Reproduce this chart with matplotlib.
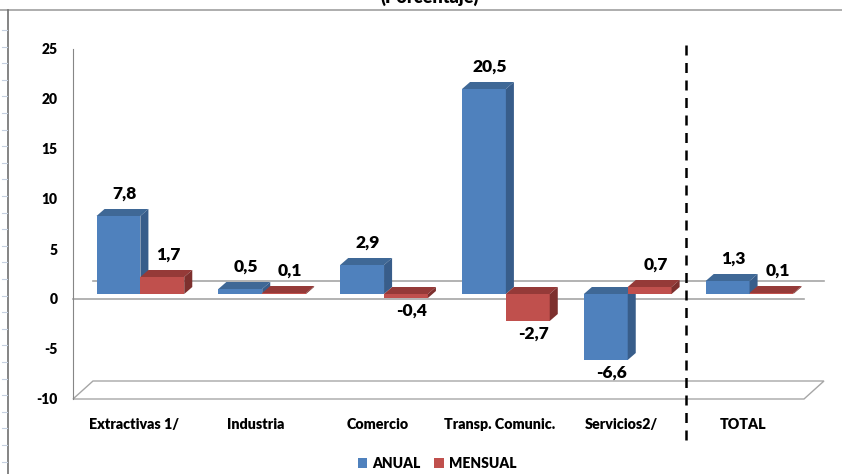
import matplotlib.pyplot as plt
from matplotlib.patches import Polygon, Patch
from matplotlib.lines import Line2D
import numpy as np

# Chart data
categories = ['Extractivas 1/', 'Industria', 'Comercio', 'Transp. Comunic.', 'Servicios2/', 'TOTAL']
anual = [7.8, 0.5, 2.9, 20.5, -6.6, 1.3]
mensual = [1.7, 0.1, -0.4, -2.7, 0.7, 0.1]
y_ticks = [25, 20, 15, 10, 5, 0, -5, -10]

plt.rcParams['font.family'] = ['Lato', 'DejaVu Sans']
W = 'heavy'

# colours (front, top, side)
blue = ('#4f81bd', '#3f6896', '#385d8a')
red = ('#c0504d', '#953a38', '#7d302e')

# fake 3D geometry (data units)
wall_dx, wall_dy = 0.164, 1.8   # depth of the wall / floor
bar_dx, bar_dy = 0.066, 0.7     # depth of each bar
base = 0.5                      # bars sit a bit behind the front zero line
shift = 0.053
width = 0.36

fig = plt.figure(figsize=(8.42, 4.74), dpi=100)
ax = fig.add_axes([73 / 842, 1 - 399 / 474, 731 / 842, 350 / 474])
ax.set_xlim(-0.5, 5.5)
ax.set_ylim(-10, 25)

for s in ['top', 'right', 'bottom']:
    ax.spines[s].set_visible(False)
ax.spines['left'].set_color('#868686')

ax.set_yticks(y_ticks)
ax.set_yticklabels([str(t) for t in y_ticks], fontsize=10, fontweight=W)
ax.tick_params(axis='y', length=0, pad=11)
x = np.arange(len(categories))
ax.set_xticks(x)
ax.set_xticklabels(categories, fontsize=10.3, fontweight=W)
ax.tick_params(axis='x', length=0, pad=14)

# floor
floor = Polygon([(-0.5, -10), (5.5, -10), (5.5 + wall_dx, -10 + wall_dy),
                 (-0.5 + wall_dx, -10 + wall_dy)], closed=True,
                facecolor='white', edgecolor='#a6a6a6', lw=1, clip_on=False, zorder=1)
ax.add_patch(floor)

# zero lines (front and back)
ax.plot([-0.5, 5.5], [0, 0], color='#a6a6a6', lw=1.2, clip_on=False, zorder=1)
ax.plot([-0.5 + wall_dx, 5.5 + wall_dx], [wall_dy, wall_dy], color='#a6a6a6', lw=1.2,
        clip_on=False, zorder=1)


def fmt(v):
    return f"{v:.1f}".replace('.', ',')


def draw_bar(x0, v, cols, z):
    front, topc, side = cols
    ax.bar(x0, v, bottom=base, width=width, align='edge', color=front,
           edgecolor='none', zorder=z)
    x1 = x0 + width
    t = max(base, base + v)
    b = min(base, base + v)
    top = Polygon([(x0, t), (x1, t), (x1 + bar_dx, t + bar_dy), (x0 + bar_dx, t + bar_dy)],
                  closed=True, facecolor=topc, edgecolor='none', zorder=z)
    sid = Polygon([(x1, b), (x1, t), (x1 + bar_dx, t + bar_dy), (x1 + bar_dx, b + bar_dy)],
                  closed=True, facecolor=side, edgecolor='none', zorder=z)
    ax.add_patch(top)
    ax.add_patch(sid)
    xc = x0 + width / 2
    if v >= 0:
        ax.annotate(fmt(v), xy=(xc, base + v), xytext=(6, 22), textcoords='offset pixels',
                    ha='center', va='center', fontsize=12.5, fontweight=W, zorder=10)
    else:
        ax.annotate(fmt(v), xy=(xc, base + v), xytext=(6, -13), textcoords='offset pixels',
                    ha='center', va='center', fontsize=12.5, fontweight=W, zorder=10)


for i in range(len(categories)):
    draw_bar(i + shift - width, anual[i], blue, 3 + i * 2)
    draw_bar(i + shift, mensual[i], red, 4 + i * 2)

# dashed separator before TOTAL
ax.plot([4.5 + wall_dx / 5, 4.5 + wall_dx / 5], [-14.1, 25.4], color='black', lw=1.8,
        dashes=(4, 3), clip_on=False, zorder=20)

# legend
handles = [Patch(facecolor=blue[0]), Patch(facecolor=red[0])]
fig.legend(handles, ['ANUAL', 'MENSUAL'], loc='center', bbox_to_anchor=(437 / 842, 1 - 463 / 474),
           ncol=2, frameon=False, handlelength=0.7, handleheight=0.7, columnspacing=1.0,
           handletextpad=0.35, prop={'size': 10, 'weight': W})

# cut-off title and chart frame lines
fig.text(430 / 842, 1 - 3 / 474, '(Porcentaje)', ha='center', va='baseline',
         fontsize=13, fontweight=W)
fig.add_artist(Line2D([0, 1], [1 - 10 / 474, 1 - 10 / 474], color='#a0a0a0', lw=1.2))
fig.add_artist(Line2D([8 / 842, 8 / 842], [0, 1 - 10 / 474], color='#707070', lw=1.2))
for yy in np.arange(30, 474, 16.6):
    fig.add_artist(Line2D([2 / 842, 7 / 842], [1 - yy / 474, 1 - yy / 474], color='#c5d0e0', lw=0.8))

fig.savefig('out.png', dpi=100)
